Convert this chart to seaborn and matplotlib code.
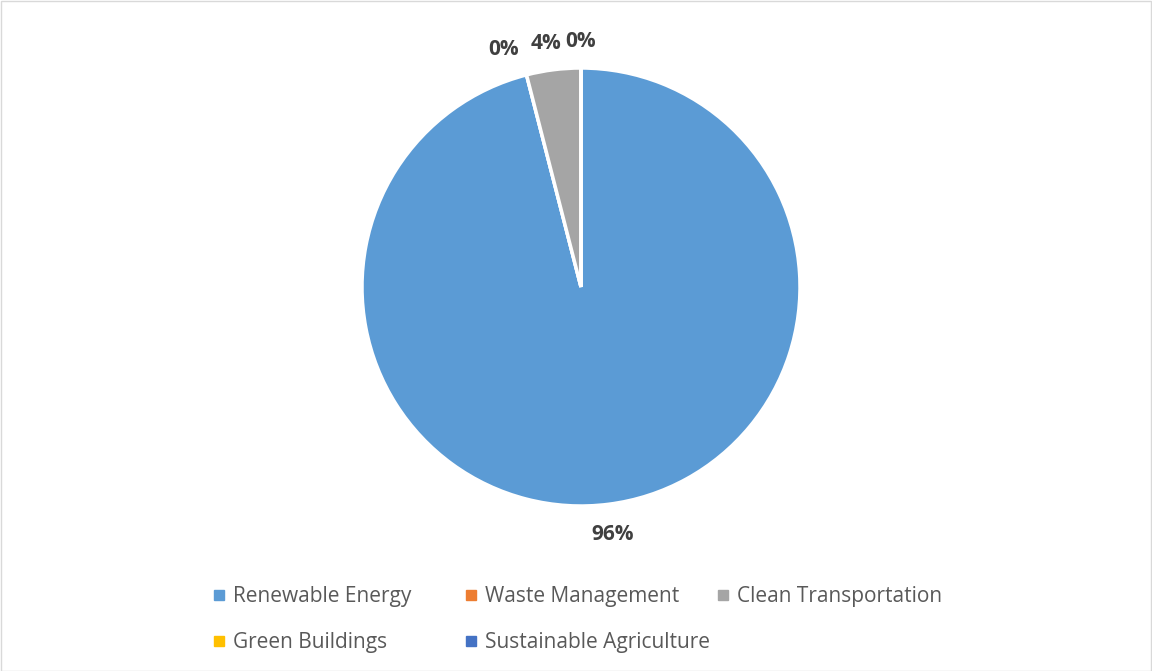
import matplotlib
matplotlib.use('Agg')
import matplotlib.pyplot as plt
from matplotlib.lines import Line2D
from matplotlib.patches import Rectangle
import seaborn as sns

CATEGORIES = [
    'Renewable Energy',
    'Waste Management',
    'Clean Transportation',
    'Green Buildings',
    'Sustainable Agriculture',
]
SHARES = [96.0, 0.0, 4.0, 0.0, 0.0]
COLORS = ['#5B9BD5', '#ED7D31', '#A5A5A5', '#FFC000', '#4472C4']

sns.set_theme(style='white')
plt.rcParams['font.family'] = ['Open Sans', 'DejaVu Sans']

W, H = 1152, 671
fig = plt.figure(figsize=(W / 100, H / 100), dpi=100)

# pie centre ~ (581, 287) px, radius ~219 px
cx, cy, r = 581, 287, 219
ax = fig.add_axes([(cx - r) / W, (H - cy - r) / H, 2 * r / W, 2 * r / H])
wedges, texts, autotexts = ax.pie(
    SHARES, colors=COLORS, startangle=90, counterclock=False,
    autopct='%.0f%%', pctdistance=1.14,
    wedgeprops=dict(edgecolor='white', linewidth=2.5),
    textprops=dict(fontsize=15, fontweight='bold', color='#404040'),
)
ax.set_aspect('equal')
ax.set_xlim(-1, 1)
ax.set_ylim(-1, 1)
ax.axis('off')

# crowded zero labels at the top: spread a bit, drop the exact duplicate
autotexts[1].set_x(autotexts[1].get_position()[0] - 0.07)
autotexts[1].set_y(autotexts[1].get_position()[1] - 0.02)
autotexts[2].set_x(autotexts[2].get_position()[0] - 0.015)
autotexts[2].set_y(autotexts[2].get_position()[1] - 0.02)
autotexts[3].set_y(autotexts[3].get_position()[1] - 0.02)
autotexts[4].set_visible(False)

# legend: three columns placed like the original
columns = [[0, 3], [1, 4], [2]]
col_x = [200, 452, 704]
for ci, idxs in enumerate(columns):
    handles = [Line2D([], [], marker='s', linestyle='none', markersize=7,
                      markerfacecolor=COLORS[i], markeredgecolor=COLORS[i])
               for i in idxs]
    labels = [CATEGORIES[i] for i in idxs]
    leg = fig.legend(handles, labels, loc='upper left',
                     bbox_to_anchor=(col_x[ci] / W, 1 - 576 / H),
                     frameon=False, fontsize=15, handlelength=0.8,
                     handletextpad=0.3, labelspacing=1.2, borderpad=0)
    for t in leg.get_texts():
        t.set_color('#595959')

fig.patches.append(Rectangle((0.5 / W, 0.5 / H), 1 - 1.5 / W, 1 - 1.5 / H,
                             transform=fig.transFigure, fill=False,
                             edgecolor='#D9D9D9', linewidth=1))

fig.savefig('out.png', dpi=100, facecolor='white')
